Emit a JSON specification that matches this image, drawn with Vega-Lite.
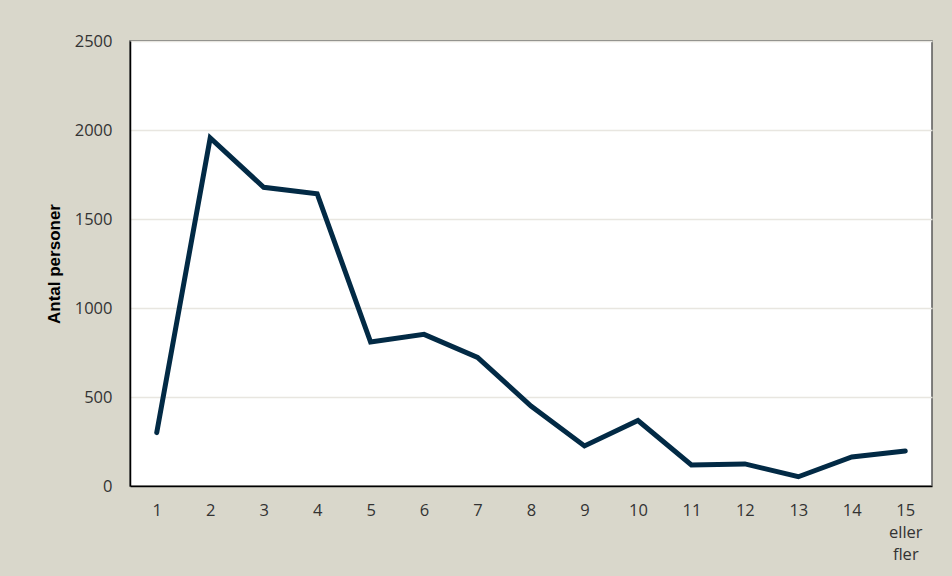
{
  "$schema": "https://vega.github.io/schema/vega-lite/v6.json",
  "width": 802,
  "height": 445,
  "autosize": "none",
  "padding": {"left": 130, "top": 41, "right": 20, "bottom": 90},
  "background": "#d9d7cb",
  "config": {
    "view": {"fill": "white", "stroke": "#595959", "strokeWidth": 1.5},
    "font": "Open Sans"
  },
  "data": {
    "values": [
      {"hushall": "1", "antal": 300},
      {"hushall": "2", "antal": 1955},
      {"hushall": "3", "antal": 1678},
      {"hushall": "4", "antal": 1642},
      {"hushall": "5", "antal": 809},
      {"hushall": "6", "antal": 852},
      {"hushall": "7", "antal": 722},
      {"hushall": "8", "antal": 449},
      {"hushall": "9", "antal": 225},
      {"hushall": "10", "antal": 368},
      {"hushall": "11", "antal": 118},
      {"hushall": "12", "antal": 124},
      {"hushall": "13", "antal": 52},
      {"hushall": "14", "antal": 163},
      {"hushall": "15 eller fler", "antal": 197}
    ]
  },
  "mark": {"type": "line", "color": "#022a45", "strokeWidth": 5, "strokeJoin": "miter", "strokeCap": "round"},
  "encoding": {
    "x": {
      "field": "hushall",
      "type": "ordinal",
      "sort": null,
      "scale": {"type": "point", "padding": 0.5},
      "axis": {
        "title": null,
        "labelAngle": 0,
        "labelFontSize": 16.5,
        "labelColor": "#333333",
        "labelPadding": 16,
        "labelLineHeight": 22,
        "ticks": false,
        "domainColor": "#000000",
        "domainWidth": 1.5,
        "grid": false,
        "labelExpr": "datum.value == '15 eller fler' ? ['15', 'eller', 'fler'] : datum.value"
      }
    },
    "y": {
      "field": "antal",
      "type": "quantitative",
      "scale": {"domain": [0, 2500]},
      "axis": {
        "title": "Antal personer",
        "titleFontSize": 17,
        "titleFontWeight": "bold",
        "titleColor": "#000000",
        "titleFont": "Liberation Sans",
        "titlePadding": 11,
        "values": [0, 500, 1000, 1500, 2000, 2500],
        "format": "d",
        "labelFontSize": 16.5,
        "labelColor": "#333333",
        "labelPadding": 18,
        "ticks": false,
        "domainColor": "#000000",
        "domainWidth": 1.5,
        "gridColor": "#e8e6e0",
        "gridWidth": 1.5
      }
    }
  }
}
